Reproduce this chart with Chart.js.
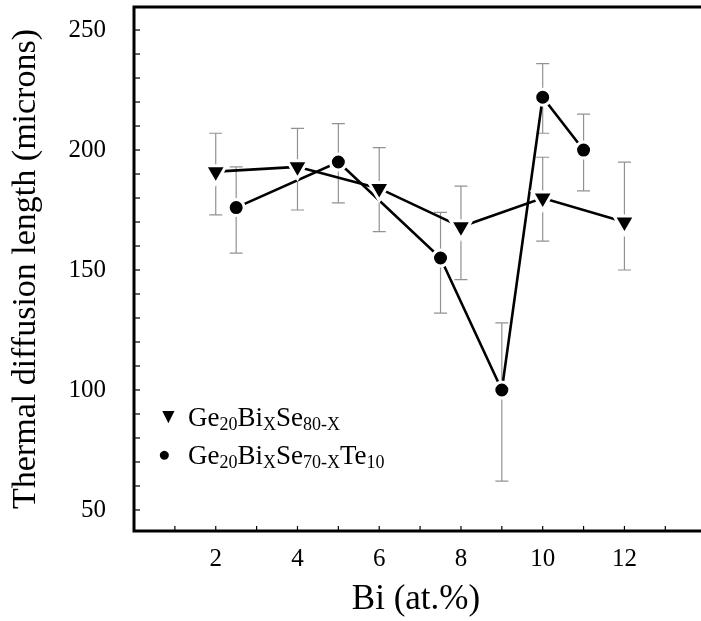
<!DOCTYPE html>
<html>
<head>
<meta charset="utf-8">
<script src="https://cdn.jsdelivr.net/npm/chart.js@4/dist/chart.umd.min.js"></script>
<style>
  body { margin: 0; background: #fff; }
  #wrap { position: relative; width: 701px; height: 621px; }
  #legend {
    position: absolute; left: 158px; top: 398px;
    font-family: "Liberation Serif", "DejaVu Serif", serif;
    font-size: 27px; color: #000; line-height: 37px;
  }
  #legend sub { font-size: 18px; vertical-align: -4px; line-height: 0; }
  #legend .sym { display: inline-block; width: 30px; font-size: 21px; vertical-align: 3px; }
</style>
</head>
<body>
<div id="wrap">
  <canvas id="chart" width="701" height="621"></canvas>
  <div id="legend">
    <div><span class="sym">&#9660;</span>Ge<sub>20</sub>Bi<sub>X</sub>Se<sub>80-X</sub></div>
    <div><span class="sym">&#9679;</span>Ge<sub>20</sub>Bi<sub>X</sub>Se<sub>70-X</sub>Te<sub>10</sub></div>
  </div>
</div>
<script>
// Ge20BiXSe80-X (triangles)
const xA = [2, 4, 6, 8, 10, 12];
const yA = [191, 193, 184, 168, 180, 170];
const loA = [173, 175, 166, 146, 162, 150];
const hiA = [207, 209, 201, 185, 197, 195];

// Ge20BiXSe70-XTe10 (circles)
const xB = [2.5, 5, 7.5, 9, 10, 11];
const yB = [176, 195, 155, 100, 222, 200];
const loB = [157, 178, 132, 62, 207, 183];
const hiB = [193, 211, 174, 128, 236, 215];

const xTicks = [2, 4, 6, 8, 10, 12];
const yTicks = [50, 100, 150, 200, 250];

const serif = '"Liberation Serif", "DejaVu Serif", serif';

// error bars, drawn under the lines
const errorBars = {
  id: 'errorBars',
  beforeDatasetsDraw(chart) {
    const ctx = chart.ctx;
    const xs = chart.scales.x, ys = chart.scales.y;
    ctx.save();
    ctx.strokeStyle = '#929292';
    ctx.lineWidth = 1.2;
    const draw = (xv, lo, hi) => {
      xv.forEach((v, i) => {
        const px = xs.getPixelForValue(v);
        const p1 = ys.getPixelForValue(lo[i]);
        const p2 = ys.getPixelForValue(hi[i]);
        ctx.beginPath();
        ctx.moveTo(px, p1); ctx.lineTo(px, p2);
        ctx.moveTo(px - 6.5, p1); ctx.lineTo(px + 6.5, p1);
        ctx.moveTo(px - 6.5, p2); ctx.lineTo(px + 6.5, p2);
        ctx.stroke();
      });
    };
    draw(xA, loA, hiA);
    draw(xB, loB, hiB);
    ctx.restore();
  }
};

// frame (left, top, bottom) and inward ticks
const frame = {
  id: 'frame',
  afterDraw(chart) {
    const ctx = chart.ctx;
    const a = chart.chartArea;
    const xs = chart.scales.x, ys = chart.scales.y;
    ctx.save();
    ctx.strokeStyle = '#000';
    ctx.lineWidth = 1.2;
    for (let v = 1; v <= 13; v++) {
      const px = xs.getPixelForValue(v);
      ctx.beginPath(); ctx.moveTo(px, a.bottom); ctx.lineTo(px, a.bottom - 5); ctx.stroke();
    }
    for (let v = 50; v <= 250; v += 10) {
      const py = ys.getPixelForValue(v);
      ctx.beginPath(); ctx.moveTo(a.left, py); ctx.lineTo(a.left + 6, py); ctx.stroke();
    }
    ctx.lineWidth = 3;
    ctx.beginPath();
    ctx.moveTo(701, a.top);
    ctx.lineTo(a.left, a.top);
    ctx.lineTo(a.left, a.bottom);
    ctx.lineTo(701, a.bottom);
    ctx.stroke();
    ctx.restore();
  }
};

function noPad(s) {
  s.paddingTop = 0; s.paddingBottom = 0;
  s.paddingLeft = 0; s.paddingRight = 0;
}

new Chart(document.getElementById('chart'), {
  type: 'scatter',
  data: {
    datasets: [
      {
        label: 'Ge20BiXSe80-X',
        data: xA.map((x, i) => ({ x: x, y: yA[i] })),
        showLine: true,
        borderColor: '#000',
        borderWidth: 2.6,
        pointStyle: 'triangle',
        rotation: 180,
        pointRadius: 12,
        pointBackgroundColor: '#000',
        pointBorderColor: '#fff',
        pointBorderWidth: 3
      },
      {
        label: 'Ge20BiXSe70-XTe10',
        data: xB.map((x, i) => ({ x: x, y: yB[i] })),
        showLine: true,
        borderColor: '#000',
        borderWidth: 2.6,
        pointStyle: 'circle',
        pointRadius: 8,
        pointBackgroundColor: '#000',
        pointBorderColor: '#fff',
        pointBorderWidth: 3
      }
    ]
  },
  options: {
    responsive: false,
    animation: false,
    layout: { autoPadding: false, padding: { top: 7, right: 3, left: 0, bottom: 0 } },
    plugins: {
      legend: { display: false },
      tooltip: { enabled: false }
    },
    scales: {
      x: {
        type: 'linear',
        min: 0,
        max: 13.8,
        afterBuildTicks: s => { s.ticks = xTicks.map(v => ({ value: v })); },
        afterFit: s => { s.height = 90; noPad(s); },
        grid: { display: false },
        border: { display: false },
        ticks: { color: '#000', padding: 5, font: { family: serif, size: 25 } },
        title: {
          display: true,
          text: 'Bi (at.%)',
          color: '#000',
          padding: { top: 10, bottom: 0 },
          font: { family: serif, size: 35 }
        }
      },
      y: {
        min: 41.25,
        max: 259.6,
        afterBuildTicks: s => { s.ticks = yTicks.map(v => ({ value: v })); },
        afterFit: s => { s.width = 134; noPad(s); },
        grid: { display: false },
        border: { display: false },
        ticks: { color: '#000', padding: 20, font: { family: serif, size: 25 } },
        title: {
          display: true,
          text: 'Thermal diffusion length (microns)',
          color: '#000',
          padding: { top: 6, bottom: 0 },
          font: { family: serif, size: 34 }
        }
      }
    }
  },
  plugins: [errorBars, frame]
});
</script>
</body>
</html>
